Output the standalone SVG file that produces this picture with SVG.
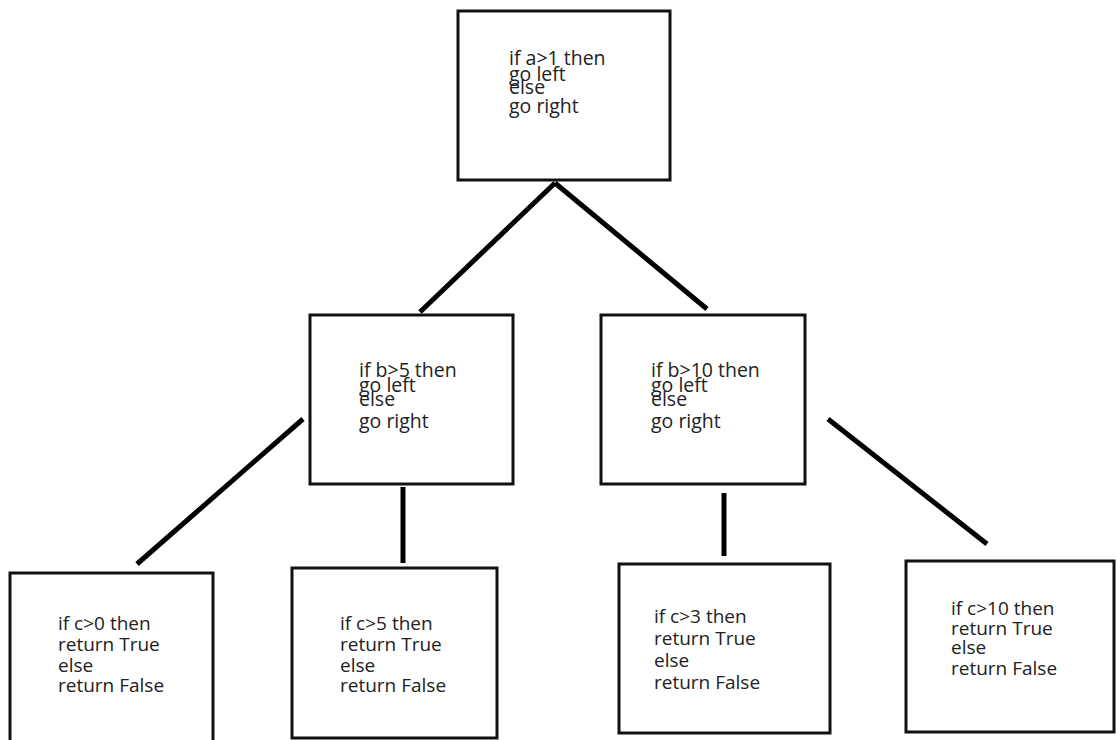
<svg xmlns="http://www.w3.org/2000/svg" width="1116" height="740" viewBox="0 0 1116 740">
  <style>
    .box { fill: #ffffff; stroke: #111111; stroke-width: 3; }
    .edge { stroke: #000000; stroke-width: 5; fill: none; }
    .lbl { font-family: "Open Sans", "Noto Sans", "Liberation Sans", sans-serif; font-size: 19.5px; fill: #222222; }
    .leaf { font-size: 19px; }
  </style>
  <rect x="0" y="0" width="1116" height="740" fill="#ffffff"/>

  <!-- connectors -->
  <g id="connectors">
    <line class="edge" x1="555" y1="183" x2="420" y2="312"/>
    <line class="edge" x1="555" y1="183" x2="707" y2="309"/>
    <line class="edge" x1="303" y1="419" x2="137" y2="564"/>
    <line class="edge" x1="403" y1="487" x2="403" y2="563"/>
    <line class="edge" x1="724" y1="493" x2="724" y2="556"/>
    <line class="edge" x1="828" y1="419" x2="987" y2="544"/>
  </g>

  <!-- root -->
  <g id="node-root">
    <rect class="box" x="458" y="11" width="212" height="169"/>
    <text class="lbl" x="509" y="65">if a&gt;1 then</text>
    <text class="lbl" x="509" y="81">go left</text>
    <text class="lbl" x="509" y="94">else</text>
    <text class="lbl" x="509" y="113">go right</text>
  </g>

  <!-- second level -->
  <g id="node-b5">
    <rect class="box" x="310" y="315" width="203" height="169"/>
    <text class="lbl" x="359" y="377">if b&gt;5 then</text>
    <text class="lbl" x="359" y="392">go left</text>
    <text class="lbl" x="359" y="406">else</text>
    <text class="lbl" x="359" y="428">go right</text>
  </g>
  <g id="node-b10">
    <rect class="box" x="601" y="315" width="204" height="169"/>
    <text class="lbl" x="651" y="377">if b&gt;10 then</text>
    <text class="lbl" x="651" y="392">go left</text>
    <text class="lbl" x="651" y="406">else</text>
    <text class="lbl" x="651" y="428">go right</text>
  </g>

  <!-- leaves -->
  <g id="node-c0">
    <rect class="box" x="10" y="573" width="203" height="172"/>
    <text class="lbl leaf" x="58" y="630">if c&gt;0 then</text>
    <text class="lbl leaf" x="58" y="651">return True</text>
    <text class="lbl leaf" x="58" y="672">else</text>
    <text class="lbl leaf" x="58" y="692">return False</text>
  </g>
  <g id="node-c5">
    <rect class="box" x="292" y="568" width="205" height="170"/>
    <text class="lbl leaf" x="340" y="630">if c&gt;5 then</text>
    <text class="lbl leaf" x="340" y="651">return True</text>
    <text class="lbl leaf" x="340" y="672">else</text>
    <text class="lbl leaf" x="340" y="692">return False</text>
  </g>
  <g id="node-c3">
    <rect class="box" x="619" y="564" width="211" height="169"/>
    <text class="lbl leaf" x="654" y="623">if c&gt;3 then</text>
    <text class="lbl leaf" x="654" y="645">return True</text>
    <text class="lbl leaf" x="654" y="667">else</text>
    <text class="lbl leaf" x="654" y="689">return False</text>
  </g>
  <g id="node-c10">
    <rect class="box" x="906" y="561" width="208" height="171"/>
    <text class="lbl leaf" x="951" y="615">if c&gt;10 then</text>
    <text class="lbl leaf" x="951" y="635">return True</text>
    <text class="lbl leaf" x="951" y="654">else</text>
    <text class="lbl leaf" x="951" y="675">return False</text>
  </g>
</svg>
